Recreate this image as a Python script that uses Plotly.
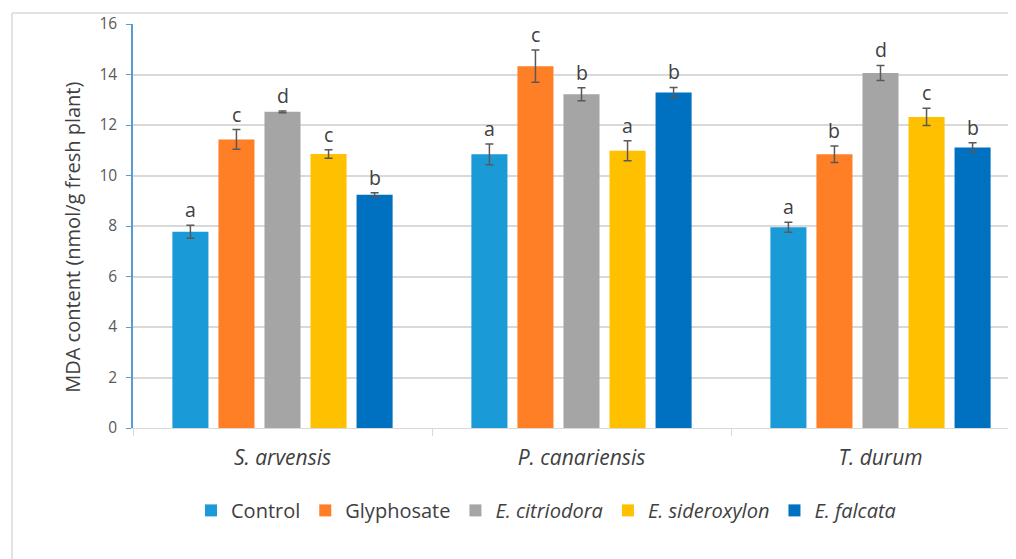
import plotly.graph_objects as go

categories = ["<i>S. arvensis</i>", "<i>P. canariensis</i>", "<i>T. durum</i>"]
series_names = ["Control", "Glyphosate", "<i>E. citriodora</i>", "<i>E. sideroxylon</i>", "<i>E. falcata</i>"]
colors = ["#1A9AD6", "#FF7F27", "#A5A5A5", "#FFC000", "#0070C0"]

control = [7.77, 10.84, 7.95]
glyphosate = [11.43, 14.33, 10.84]
citriodora = [12.52, 13.22, 14.06]
sideroxylon = [10.85, 10.98, 12.32]
falcata = [9.24, 13.29, 11.11]

control_err = [0.26, 0.41, 0.20]
glyphosate_err = [0.39, 0.64, 0.33]
citriodora_err = [0.03, 0.26, 0.30]
sideroxylon_err = [0.17, 0.40, 0.34]
falcata_err = [0.08, 0.20, 0.19]

control_letters = ["a", "a", "a"]
glyphosate_letters = ["c", "c", "b"]
citriodora_letters = ["d", "b", "d"]
sideroxylon_letters = ["c", "a", "c"]
falcata_letters = ["b", "b", "b"]

y_ticks = [0, 2, 4, 6, 8, 10, 12, 14, 16]
y_title = "MDA content (nmol/g fresh plant)"

values = [control, glyphosate, citriodora, sideroxylon, falcata]
errors = [control_err, glyphosate_err, citriodora_err, sideroxylon_err, falcata_err]
letters = [control_letters, glyphosate_letters, citriodora_letters, sideroxylon_letters, falcata_letters]

FONT = "Open Sans"
bargap = 0.23
bargroupgap = 0.217

fig = go.Figure()
for name, col, vals, errs in zip(series_names, colors, values, errors):
    fig.add_trace(go.Bar(
        x=categories, y=vals, name=name,
        marker=dict(color=col, line=dict(width=0)),
        error_y=dict(type="data", array=errs, visible=True, color="#595959", thickness=1.5, width=4),
    ))

# page has an 8px body margin: figure coordinates = page coordinates - 8
OFF = 8
W, H = 1016 - OFF, 559 - OFF
L, T = 133 - OFF, 24 - OFF
B = H - (428.5 - OFF)
pw = W - L
ph = H - T - B

def px_to_paper_x(px):
    return (px - OFF - L) / pw

def px_to_paper_y(py):
    return (T + ph - (py - OFF)) / ph

n = len(series_names)
slot = (1 - bargap) / n
annotations = []
for i in range(n):
    for g in range(len(categories)):
        annotations.append(dict(
            x=g + (i - (n - 1) / 2) * slot, y=values[i][g] + errors[i][g],
            xref="x", yref="y", text=letters[i][g], showarrow=False,
            yanchor="bottom", yshift=0,
            font=dict(family=FONT, size=19.5, color="#404040"),
        ))
annotations.append(dict(
    text=y_title, xref="paper", yref="paper", x=px_to_paper_x(73), y=px_to_paper_y(238),
    xanchor="center", yanchor="middle", textangle=-90, showarrow=False,
    font=dict(family=FONT, size=20, color="#404040"),
))

fig.update_layout(
    width=W, height=H,
    margin=dict(l=L, r=0, t=T, b=B, autoexpand=False),
    paper_bgcolor="white", plot_bgcolor="white",
    barmode="group", bargap=bargap, bargroupgap=bargroupgap,
    font=dict(family=FONT, color="#595959", size=15),
    annotations=annotations,
    legend=dict(orientation="h", x=px_to_paper_x(546), xanchor="center",
                y=px_to_paper_y(511), yanchor="middle",
                font=dict(family=FONT, size=20, color="#404040"),
                itemwidth=30, traceorder="normal"),
    xaxis=dict(type="category", range=[-0.5, -0.5 + pw / 299.0], automargin=False,
               showline=True, linecolor="#D9D9D9", linewidth=1,
               ticks="outside", tickson="boundaries", ticklen=7, tickcolor="#D9D9D9",
               showgrid=False, tickfont=dict(family=FONT, size=21, color="#404040"),
               ticklabelstandoff=11),
    yaxis=dict(range=[0, 16], tickvals=y_ticks, showline=True, linecolor="#5B9BD5", linewidth=1.5,
               ticks="outside", ticklen=5, tickcolor="#5B9BD5", automargin=False,
               showgrid=True, gridcolor="#D9D9D9", gridwidth=1.5, zeroline=False,
               tickfont=dict(family=FONT, size=15.5, color="#595959"), ticklabelstandoff=6),
    shapes=[
        dict(type="line", xref="paper", yref="paper", x0=px_to_paper_x(12), x1=1.0,
             y0=px_to_paper_y(13), y1=px_to_paper_y(13), line=dict(color="#D9D9D9", width=1.5)),
        dict(type="line", xref="paper", yref="paper", x0=px_to_paper_x(12), x1=px_to_paper_x(12),
             y0=px_to_paper_y(13), y1=px_to_paper_y(560), line=dict(color="#D9D9D9", width=1.5)),
    ],
)

fig.write_html("out.html")
